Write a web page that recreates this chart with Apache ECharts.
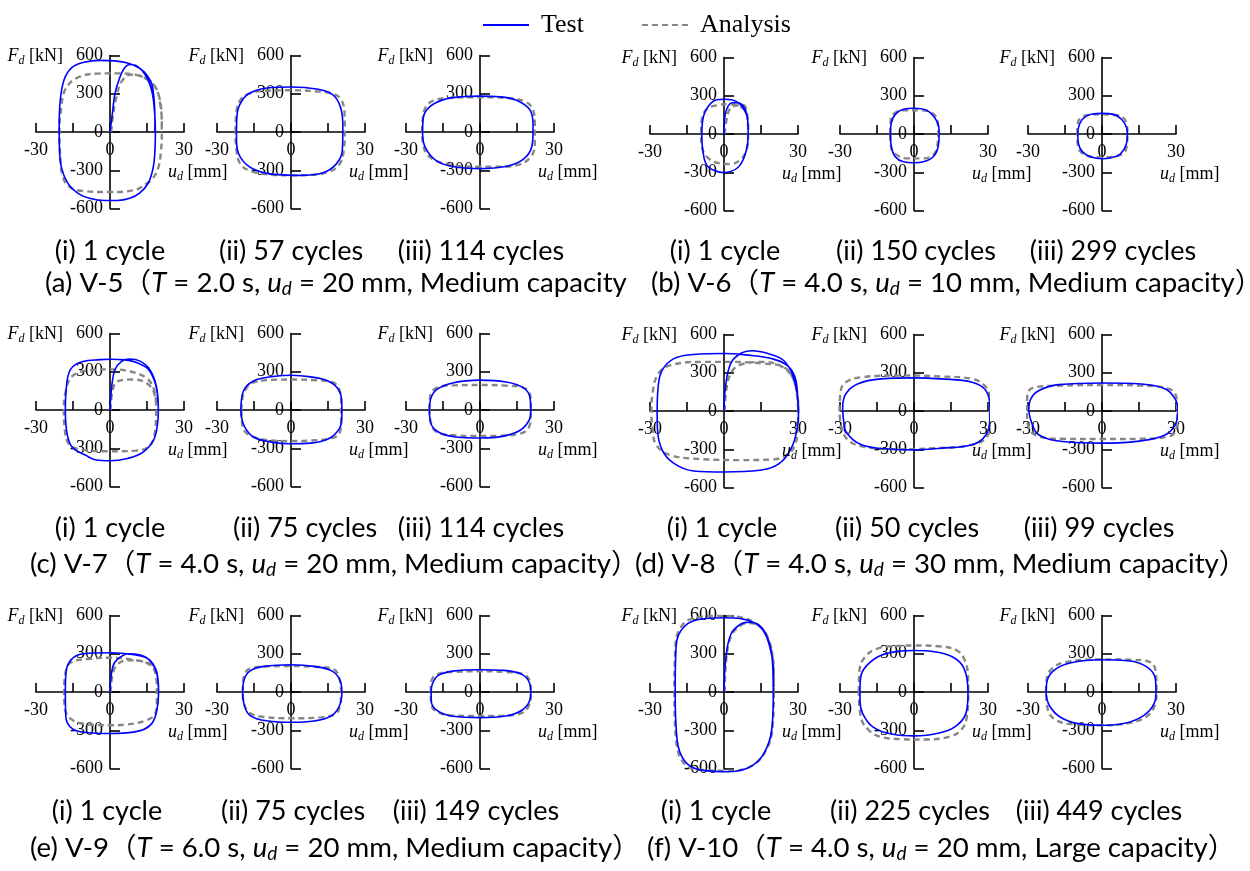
<!DOCTYPE html>
<html>
<head>
<meta charset="utf-8">
<script src="https://cdn.jsdelivr.net/npm/echarts@6.0.0/dist/echarts.min.js"></script>
<style>
  html, body { margin: 0; padding: 0; background: #fff; }
  #main { width: 1250px; height: 871px; }
</style>
</head>
<body>
<div id="main"></div>
<script>
// ---------- legend and axis ticks ----------
const seriesNames = ['Test', 'Analysis'];
const xTickValues = [-30, -15, 0, 15, 30];
const xTickLabels = ['-30', '', '0', '', '30'];
const yTickValues = [-600, -300, 0, 300, 600];

// ---------- captions ----------
const specimenCaptions = [
  '(a) V-5（{i|T} = 2.0 s, {i|u}{s|d} = 20 mm, Medium capacity',
  '(b) V-6（{i|T} = 4.0 s, {i|u}{s|d} = 10 mm, Medium capacity）',
  '(c) V-7（{i|T} = 4.0 s, {i|u}{s|d} = 20 mm, Medium capacity）',
  '(d) V-8（{i|T} = 4.0 s, {i|u}{s|d} = 30 mm, Medium capacity）',
  '(e) V-9（{i|T} = 6.0 s, {i|u}{s|d} = 20 mm, Medium capacity）',
  '(f) V-10（{i|T} = 4.0 s, {i|u}{s|d} = 20 mm, Large capacity）'
];
const cycleLabelsA = ['(i) 1 cycle', '(ii) 57 cycles', '(iii) 114 cycles'];
const cycleLabelsB = ['(i) 1 cycle', '(ii) 150 cycles', '(iii) 299 cycles'];
const cycleLabelsC = ['(i) 1 cycle', '(ii) 75 cycles', '(iii) 114 cycles'];
const cycleLabelsD = ['(i) 1 cycle', '(ii) 50 cycles', '(iii) 99 cycles'];
const cycleLabelsE = ['(i) 1 cycle', '(ii) 75 cycles', '(iii) 149 cycles'];
const cycleLabelsF = ['(i) 1 cycle', '(ii) 225 cycles', '(iii) 449 cycles'];

// ---------- hysteresis loops: [u_d (mm), F_d (kN)] ----------
// V-5
const v5c1Test = [[0,0],[1,150],[2,300],[4,430],[6,505],[8,530],[10,526],[13,482],[15.5,405],[17.2,300],[18.1,150],[18.4,0],[18.2,-150],[17.5,-280],[15.5,-400],[12,-480],[8,-520],[3,-537],[-2,-537],[-8,-522],[-13,-482],[-17,-405],[-19.6,-285],[-20.5,-130],[-20.6,40],[-20.2,240],[-18.6,410],[-15.5,505],[-10.5,547],[-4,562],[2,558],[7.5,540],[12,500],[15,445],[17,370],[17.9,250],[18.2,110],[18.2,0]];
const v5c1Ana = [[0.5,0],[1.3,145],[2.7,278],[4.7,397],[8.7,450],[13.5,431],[17.8,370],[19.9,278],[20.9,145],[21,0],[20.7,-145],[19.6,-278],[17.5,-360],[14.8,-405],[9.4,-458],[0,-471],[-10.8,-463],[-16.5,-430],[-19.3,-340],[-20.2,-172],[-20.5,0],[-19.7,198],[-18.2,331],[-13.5,423],[-5.4,458],[2.7,460],[9.4,452],[14.8,415],[18.8,335],[20.5,200],[21,66],[21,0]];
const v5c57Test = [[-22.1,0],[-21.8,146],[-19.2,265],[-15.1,319],[-9.8,345],[0,353],[10.3,337],[17,292],[20,199],[21,60],[21,0],[20.8,-146],[18.3,-252],[13,-319],[3.6,-340],[-5.8,-334],[-15.1,-292],[-20.5,-199],[-22.1,-66],[-22.1,0]];
const v5c57Ana = [[-22.5,0],[-22.2,146],[-20.5,252],[-16.5,305],[-9.8,324],[0,327],[10.3,319],[17,300],[20.4,252],[21.7,146],[21.8,0],[21.4,-146],[19.7,-252],[15.7,-310],[7.6,-337],[0,-340],[-9.8,-332],[-16.5,-305],[-20.5,-252],[-22.1,-146],[-22.5,0]];
const v5c114Test = [[-23.3,0],[-22.9,121],[-20.2,201],[-14.8,254],[-8.1,276],[0,281],[8.1,276],[14.8,249],[20.2,174],[21.5,60],[21.5,0],[20.9,-121],[17.5,-214],[10.8,-268],[0,-287],[-9.4,-276],[-17.5,-228],[-22.2,-121],[-23.3,0]];
const v5c114Ana = [[-23.5,0],[-22.9,147],[-20.2,233],[-13.5,265],[0,273],[12.1,265],[18.8,233],[21.5,174],[22.2,67],[22.2,-94],[20.9,-187],[16.1,-254],[8.1,-273],[0,-273],[-9.4,-265],[-17.5,-228],[-21.5,-174],[-23.1,-94],[-23.5,0]];
// V-6
const v6c1Test = [[0,0],[0.4,141],[1.7,220],[3.3,245],[5.1,246],[7.8,220],[9.4,141],[9.8,0],[9.1,-125],[6.5,-244],[2.4,-297],[0,-303],[-3.6,-289],[-7,-244],[-8.6,-125],[-9,0],[-8.3,141],[-6.3,220],[-3,268],[0,273],[3.1,268],[6.5,233],[9.1,154],[9.8,40]];
const v6c1Ana = [[0.3,0],[1.7,167],[3.8,220],[7.8,225],[9.4,154],[9.8,0],[9.1,-125],[6.5,-204],[2.4,-236],[-1.6,-231],[-6.3,-191],[-9,-98],[-9.3,0],[-9,114],[-7,194],[-3,225],[1.7,233],[6.5,215],[9.4,150],[9.8,40]];
const v6c150Test = [[-9.6,0],[-9.2,88],[-7.6,154],[-4.3,194],[0,202],[5.1,186],[8.4,127],[10,61],[10.2,0],[9.8,-98],[7.8,-178],[3.8,-218],[0,-226],[-4.3,-218],[-7.6,-178],[-9.2,-98],[-9.6,0]];
const v6c150Ana = [[-9.6,0],[-9.4,114],[-7.6,167],[-3.6,186],[2.4,186],[7.1,167],[9.4,114],[9.8,0],[9.4,-98],[7.8,-165],[3.8,-191],[-2.9,-191],[-7,-165],[-9.2,-111],[-9.6,0]];
const v6c299Test = [[-9.8,0],[-9.2,74],[-7.4,127],[-4,157],[0,162],[4.7,154],[8,114],[10,48],[10.3,0],[9.8,-85],[7.4,-157],[3.3,-188],[0,-194],[-4.7,-178],[-8,-138],[-9.6,-72],[-9.8,0]];
const v6c299Ana = [[-10,0],[-9.8,88],[-8,135],[-4.7,151],[0,154],[5.4,149],[8.7,127],[10,74],[10.3,0],[10,-98],[8.7,-151],[4.7,-178],[0,-183],[-4.7,-178],[-8,-151],[-9.8,-98],[-10,0]];
// V-7
const v7c1Test = [[0,0],[0.7,184],[2,316],[4.7,382],[8,400],[12,385],[16.1,319],[18.8,186],[19.6,0],[19.2,-120],[17.6,-239],[13.3,-332],[7,-380],[0,-398],[-6,-390],[-9.6,-358],[-15.3,-292],[-17.4,-186],[-18.1,0],[-17.8,150],[-16,319],[-11,380],[-4,395],[0,398],[6.1,393],[11,370],[15.5,320],[18.5,200],[19.4,60]];
const v7c1Ana = [[0.3,0],[1.1,159],[3.3,226],[9,239],[14.7,212],[17.9,133],[18.7,0],[18.3,-159],[16.1,-279],[10.4,-319],[0,-324],[-11,-313],[-16.7,-265],[-18.4,-133],[-18.7,0],[-18.1,133],[-15.3,265],[-8.1,313],[0,319],[7.6,305],[14.7,252],[17.9,159],[18.7,40]];
const v7c75Test = [[-20.3,0],[-19.9,106],[-18.1,186],[-13.8,239],[-6.5,265],[0,273],[8,260],[15.2,226],[19.3,159],[20.6,53],[20.6,-53],[19.6,-146],[15.2,-226],[8,-260],[0,-265],[-8,-252],[-15.2,-212],[-18.8,-133],[-20.1,-53],[-20.3,0]];
const v7c75Ana = [[-20.1,0],[-19.6,106],[-18.1,170],[-15.9,212],[-8,236],[0,239],[9.4,234],[16.7,218],[19.6,159],[20.3,53],[20.3,-80],[19.6,-186],[15.2,-226],[8,-239],[0,-244],[-8,-239],[-16.7,-199],[-19.6,-133],[-20.1,0]];
const v7c114Test = [[-20.5,0],[-20.1,80],[-17.6,159],[-11.1,212],[0,234],[10.5,220],[17.7,173],[20.3,93],[20.6,0],[19.9,-80],[16.3,-159],[9.1,-207],[0,-220],[-9.7,-212],[-16.9,-173],[-20.1,-93],[-20.5,0]];
const v7c114Ana = [[-20.5,0],[-20.2,106],[-17.6,173],[-9.7,194],[0,196],[10.5,191],[18.5,167],[20.6,80],[20.6,-27],[19.9,-133],[16.3,-186],[7.6,-202],[0,-204],[-9.7,-199],[-17.6,-173],[-19.8,-106],[-20.5,0]];
// V-8
const v8c1Test = [[0,0],[0.6,186],[2.7,372],[6.7,451],[11.4,473],[17.8,451],[24.1,398],[27.6,292],[29.7,133],[30.2,0],[29.7,-133],[27.3,-292],[22.5,-411],[14.6,-465],[0,-478],[-12.4,-470],[-20.3,-411],[-25.1,-305],[-27,-133],[-27.1,0],[-26.7,186],[-25.1,319],[-20.3,411],[-12.4,443],[0,451],[9.8,438],[19.3,411],[25.6,358],[28.8,265],[29.9,106],[30.1,0]];
const v8c1Ana = [[0.3,0],[1.1,186],[3.5,319],[8.2,372],[16.2,385],[22.5,358],[27.3,279],[29.7,133],[30.1,0],[29.9,-133],[28.8,-265],[25.6,-345],[19.3,-380],[6.7,-385],[-9.2,-377],[-21.9,-345],[-27.5,-265],[-29,-133],[-29.4,0],[-29,133],[-26.7,292],[-21.9,358],[-9.2,385],[3.5,385],[16.2,372],[24.1,345],[28.1,252],[29.7,106],[30.1,0]];
const v8c50Test = [[-28.9,0],[-28.5,-80],[-27.7,-159],[-21.3,-265],[-8.5,-300],[0,-305],[10.7,-292],[23.6,-265],[29.2,-186],[30.8,-53],[30.8,27],[29.2,159],[23.6,226],[10.7,252],[0,260],[-13.3,252],[-22.9,212],[-27.7,133],[-28.9,27],[-28.9,0]];
const v8c50Ana = [[-30.2,0],[-29.7,159],[-27.7,226],[-21.3,265],[-5.3,279],[10.7,271],[23.6,252],[29.2,186],[30.8,80],[30.8,-80],[29.2,-212],[21.9,-271],[7.5,-292],[-5.3,-300],[-18.1,-287],[-26.1,-239],[-29.3,-133],[-30.2,0]];
const v8c99Test = [[-29.7,0],[-28.9,93],[-25.7,159],[-17.6,207],[0,220],[16,212],[25.7,173],[29.7,93],[30.8,0],[29.7,-106],[25.7,-186],[16,-234],[0,-252],[-16,-239],[-25.7,-186],[-28.5,-93],[-29.7,0]];
const v8c99Ana = [[-30.5,0],[-30.2,133],[-27.3,186],[-16,199],[0,204],[16,199],[27.3,173],[30.2,106],[30.5,0],[30.2,-133],[27.3,-199],[16,-218],[0,-220],[-16,-218],[-25.7,-199],[-29.7,-133],[-30.5,0]];
// V-9
const v9c1Test = [[0,0],[1.1,196],[3.3,261],[7.6,300],[11.9,292],[16.1,248],[19,143],[19.7,0],[19,-143],[16.9,-248],[11.9,-305],[0,-326],[-9.6,-318],[-15.3,-287],[-17.9,-196],[-18.1,0],[-17.9,143],[-16,248],[-11,300],[0,308],[9,295],[15.4,261],[18.7,170],[19.6,40]];
const v9c1Ana = [[0.3,0],[1.1,143],[3.3,222],[7.6,248],[14.7,235],[17.9,196],[19,91],[19,-65],[18.3,-170],[14.7,-222],[6.1,-256],[0,-261],[-9.6,-253],[-16,-209],[-18.4,-117],[-18.6,0],[-18.1,143],[-16,230],[-8.1,261],[0,269],[9,253],[15.4,222],[18.3,157],[19,40]];
const v9c75Test = [[-19.6,0],[-19.1,91],[-16.7,164],[-10.9,201],[0,214],[9.4,201],[16.7,164],[19.9,91],[20.6,0],[20,-91],[16.7,-183],[9.4,-227],[0,-237],[-9.4,-227],[-16.7,-183],[-19.1,-91],[-19.6,0]];
const v9c75Ana = [[-19.6,0],[-19.3,104],[-16.7,183],[-8,201],[0,203],[9.4,198],[17.4,177],[19.6,104],[20.3,0],[19.9,-104],[18.1,-170],[10.9,-201],[0,-206],[-10.9,-196],[-16.7,-164],[-19.1,-91],[-19.6,0]];
const v9c149Test = [[-19.8,0],[-19.3,65],[-16.9,130],[-11.1,164],[0,175],[9.1,170],[17,138],[20.2,65],[20.6,0],[20.2,-65],[17,-143],[10.5,-188],[0,-201],[-11.1,-190],[-17.6,-143],[-19.8,-65],[-19.8,0]];
const v9c149Ana = [[-20,0],[-19.8,78],[-17.6,138],[-11.1,157],[0,162],[10.5,157],[17.7,138],[20.3,78],[20.6,-13],[19.9,-104],[17,-164],[10.5,-185],[0,-188],[-11.1,-185],[-18.5,-143],[-19.8,-78],[-20,0]];
// V-10
const v10c1Test = [[0,0],[0.8,274],[2.9,457],[7,535],[10.2,548],[14.3,522],[17.5,430],[19.5,274],[20,0],[19.6,-248],[17.5,-430],[11.8,-574],[2.1,-626],[-9.2,-613],[-15.7,-548],[-19,-378],[-19.8,0],[-19.5,326],[-17.4,483],[-10.9,566],[0,582],[7,574],[11.8,548],[15.9,483],[18.6,352],[20,170],[20,0]];
const v10c1Ana = [[0.3,0],[1,274],[3.2,450],[7,525],[10.2,540],[14.3,518],[17.7,430],[19.7,274],[20.2,0],[19.8,-248],[17.7,-430],[12,-570],[2.1,-618],[-9.2,-610],[-16.2,-560],[-19.4,-378],[-20.1,0],[-19.8,326],[-17.8,500],[-12,580],[0,597],[7,585],[12,548],[16,483],[18.8,352],[20.2,170],[20.2,0]];
const v10c225Test = [[-21.9,0],[-21.6,117],[-19.1,209],[-13.5,287],[-5.4,321],[0,326],[7.6,318],[15.7,274],[20.3,183],[21.9,0],[21.4,-143],[17.4,-261],[9.2,-326],[0,-344],[-8.6,-331],[-16.7,-274],[-20.8,-170],[-21.9,-65],[-21.9,0]];
const v10c225Ana = [[-22.4,0],[-22.1,170],[-19.9,274],[-15.1,339],[-5.4,363],[0,365],[10.9,357],[17.4,326],[20.6,248],[21.9,117],[22,0],[21.4,-196],[19,-300],[14.1,-352],[4.4,-373],[-5.4,-370],[-13.5,-352],[-18.3,-300],[-21.6,-196],[-22.4,0]];
const v10c449Test = [[-22.7,0],[-22.2,91],[-19.5,170],[-13,227],[0,253],[11.4,243],[18.6,191],[21.6,104],[21.9,0],[21.1,-91],[17,-183],[9.7,-243],[0,-261],[-9.7,-248],[-17,-196],[-21.4,-104],[-22.7,0]];
const v10c449Ana = [[-22.7,0],[-22.4,104],[-20.3,183],[-14.6,235],[0,256],[11.4,253],[19.5,235],[21.9,143],[22.1,0],[21.4,-104],[17.8,-196],[9.7,-248],[0,-261],[-11.4,-253],[-18.6,-222],[-21.9,-143],[-22.7,0]];

// ---------- grouping ----------
const testLoops = [
  [v5c1Test, v5c57Test, v5c114Test],
  [v6c1Test, v6c150Test, v6c299Test],
  [v7c1Test, v7c75Test, v7c114Test],
  [v8c1Test, v8c50Test, v8c99Test],
  [v9c1Test, v9c75Test, v9c149Test],
  [v10c1Test, v10c225Test, v10c449Test]
];
const anaLoops = [
  [v5c1Ana, v5c57Ana, v5c114Ana],
  [v6c1Ana, v6c150Ana, v6c299Ana],
  [v7c1Ana, v7c75Ana, v7c114Ana],
  [v8c1Ana, v8c50Ana, v8c99Ana],
  [v9c1Ana, v9c75Ana, v9c149Ana],
  [v10c1Ana, v10c225Ana, v10c449Ana]
];
const cycleLabels = [cycleLabelsA, cycleLabelsB, cycleLabelsC, cycleLabelsD, cycleLabelsE, cycleLabelsF];

// ---------- layout (pixels) ----------
const colCenters = [[110, 291, 480], [724, 914, 1102]];
const rowZeroY = [[132, 134], [410, 411], [692, 692]];
const halfW = 74, halfH = 76.5;
const captionLeft = [45, 651, 30, 635, 30, 647];
const captionY = [283, 283, 564, 564, 848, 848];
const cycleX = [[110, 291, 481], [725, 916, 1113], [110, 305, 481], [722, 907, 1099], [107, 293, 476], [716, 910, 1099]];
const cycleY = [251, 251, 528, 528, 811, 811];

const SERIF = '"Liberation Serif", "Times New Roman", serif';
const SANS = 'Lato, "Noto Sans CJK SC", sans-serif';
const AX = '#000';
const CAP = 27.6;

const grids = [], xAxes = [], yAxes = [], series = [], graphics = [];

for (let g = 0; g < 6; g++) {
  const row = Math.floor(g / 2), side = g % 2;
  for (let j = 0; j < 3; j++) {
    const k = g * 3 + j;
    const cx = colCenters[side][j];
    const zy = rowZeroY[row][side];
    grids.push({ left: cx - halfW, top: zy - halfH, width: 2 * halfW, height: 2 * halfH,
                 containLabel: false, outerBoundsMode: 'none' });
    // axes drawn through the middle of the plot box (ranges are symmetric about 0)
    xAxes.push({
      gridIndex: k, type: 'value', position: 'bottom', offset: -halfH,
      min: xTickValues[0], max: xTickValues[xTickValues.length - 1],
      interval: xTickValues[1] - xTickValues[0],
      axisLine: { onZero: false, lineStyle: { color: AX, width: 1.6 } },
      axisTick: { inside: true, length: 9, lineStyle: { color: AX, width: 1.6 } },
      axisLabel: { margin: 9, color: '#000', fontFamily: SERIF, fontSize: 18,
                   formatter: v => xTickLabels[xTickValues.indexOf(v)] || '' },
      splitLine: { show: false }
    });
    yAxes.push({
      gridIndex: k, type: 'value', position: 'left', offset: -halfW,
      min: yTickValues[0], max: yTickValues[yTickValues.length - 1],
      interval: yTickValues[1] - yTickValues[0],
      axisLine: { onZero: false, lineStyle: { color: AX, width: 1.6 } },
      axisTick: { inside: true, length: 10, lineStyle: { color: AX, width: 1.6 } },
      axisLabel: { margin: 7, color: '#000', fontFamily: SERIF, fontSize: 18 },
      splitLine: { show: false }
    });
    series.push({
      type: 'line', name: seriesNames[1], xAxisIndex: k, yAxisIndex: k,
      data: anaLoops[g][j], smooth: 0.4, symbol: 'none', clip: false, z: 3,
      lineStyle: { color: '#878787', width: 2.4, type: [6, 4] }, itemStyle: { color: '#878787' }
    });
    series.push({
      type: 'line', name: seriesNames[0], xAxisIndex: k, yAxisIndex: k,
      data: testLoops[g][j], smooth: 0.4, symbol: 'none', clip: false, z: 4,
      lineStyle: { color: '#0000ff', width: 1.6 }, itemStyle: { color: '#0000ff' }
    });
    // axis names
    const serifRich = {
      i: { fontFamily: SERIF, fontSize: 18, fontStyle: 'italic', fill: '#000' },
      s: { fontFamily: SERIF, fontSize: 12, fontStyle: 'italic', fill: '#000', padding: [9, 0, 0, 0] },
      n: { fontFamily: SERIF, fontSize: 18, fill: '#000' }
    };
    graphics.push({ type: 'text', x: cx - 47, y: zy - 76, z: 10,
      style: { text: '{i|F}{s|d}{n| [kN]}', rich: serifRich, align: 'right', verticalAlign: 'middle',
               fontFamily: SERIF, fontSize: 18, fill: '#000' } });
    graphics.push({ type: 'text', x: cx + 58, y: zy + 40, z: 10,
      style: { text: '{i|u}{s|d}{n| [mm]}', rich: serifRich, align: 'left', verticalAlign: 'middle',
               fontFamily: SERIF, fontSize: 18, fill: '#000' } });
    // cycle label
    graphics.push({ type: 'text', x: cycleX[g][j], y: cycleY[g], z: 10,
      style: { text: cycleLabels[g][j], align: 'center', verticalAlign: 'middle',
               fontFamily: SANS, fontSize: 27, fill: '#000' } });
  }
  // specimen caption
  graphics.push({ type: 'text', x: captionLeft[g], y: captionY[g], z: 10,
    style: {
      text: specimenCaptions[g], align: 'left', verticalAlign: 'middle',
      fontFamily: SANS, fontSize: CAP, fill: '#000',
      rich: {
        i: { fontFamily: SANS, fontSize: CAP, fontStyle: 'italic', fill: '#000' },
        s: { fontFamily: SANS, fontSize: 19, fontStyle: 'italic', fill: '#000', padding: [12, 0, 0, 0] }
      }
    } });
}

const chart = echarts.init(document.getElementById('main'), null, { renderer: 'canvas' });
chart.setOption({
  animation: false,
  backgroundColor: '#fff',
  legend: {
    data: seriesNames, left: 482, top: 12, padding: 0, itemWidth: 46, itemHeight: 14, itemGap: 57,
    itemStyle: { opacity: 0 },
    textStyle: { fontFamily: SERIF, fontSize: 26, color: '#000', padding: [0, 0, 0, 7] }
  },
  grid: grids, xAxis: xAxes, yAxis: yAxes, series: series, graphic: graphics
});
</script>
</body>
</html>
